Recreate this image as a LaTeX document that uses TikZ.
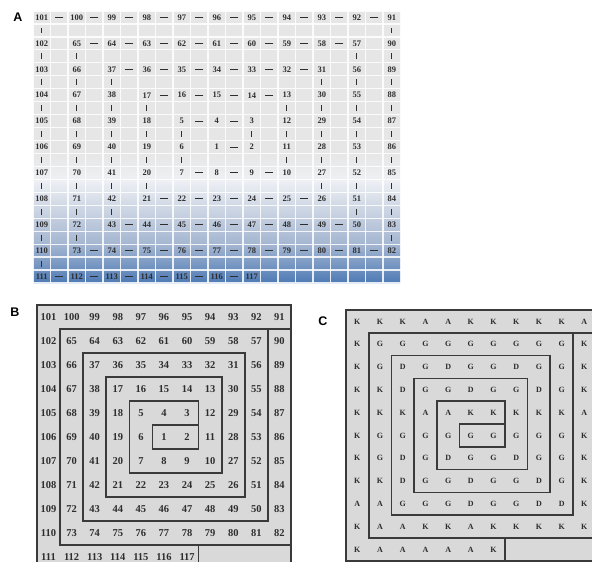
\documentclass[tikz,border=0pt]{standalone}
\usepackage{fontspec}
\setmainfont{Liberation Serif}
\newfontfamily\labfont{Liberation Sans}
\definecolor{cellgray}{HTML}{E6E6E6}
\definecolor{alight}{HTML}{EEF0F4}
\definecolor{amid}{HTML}{A3B5D0}
\definecolor{ablue}{HTML}{4E7AB5}
\definecolor{bfill}{HTML}{D9D9D9}
\definecolor{wallc}{HTML}{3A3A3A}
\definecolor{txt}{HTML}{2E2E2E}
\def\spiralrows{{101,100,99,98,97,96,95,94,93,92,91},{102,65,64,63,62,61,60,59,58,57,90},{103,66,37,36,35,34,33,32,31,56,89},{104,67,38,17,16,15,14,13,30,55,88},{105,68,39,18,5,4,3,12,29,54,87},{106,69,40,19,6,1,2,11,28,53,86},{107,70,41,20,7,8,9,10,27,52,85},{108,71,42,21,22,23,24,25,26,51,84},{109,72,43,44,45,46,47,48,49,50,83},{110,73,74,75,76,77,78,79,80,81,82},{111,112,113,114,115,116,117}}
\def\letterrows{{K,K,K,A,A,K,K,K,K,K,A},{K,G,G,G,G,G,G,G,G,G,K},{K,G,D,G,D,G,G,D,G,G,K},{K,K,D,G,G,D,G,G,D,G,K},{K,K,K,A,A,K,K,K,K,K,A},{K,G,G,G,G,G,G,G,G,G,K},{K,G,D,G,D,G,G,D,G,G,K},{K,K,D,G,G,D,G,G,D,G,K},{A,A,G,G,G,D,G,G,D,D,K},{K,A,A,K,K,A,K,K,K,K,K},{K,A,A,A,A,A,K}}
\begin{document}
\begin{tikzpicture}[x=1pt,y=-1pt,
  panlab/.style={font=\labfont\bfseries\fontsize{12.5}{13}\selectfont, text=black, inner sep=0pt},
  anum/.style={font=\bfseries\fontsize{8.5}{9}\selectfont, text=txt, inner sep=0pt},
  bnum/.style={font=\bfseries\fontsize{10.5}{11}\selectfont, text=txt, inner sep=0pt},
  clet/.style={font=\bfseries\fontsize{8}{8}\selectfont, text=txt, inner sep=0pt},
  hcon/.style={draw=txt, line width=0.9pt, shorten <=13.5pt, shorten >=13.5pt},
  vcon/.style={draw=txt, line width=0.9pt, shorten <=10pt, shorten >=10pt},
  wall/.style={draw=wallc, line width=1.7pt, line join=miter, line cap=rect},
  outerwall/.style={draw=wallc, line width=2.4pt},
  cellline/.style={draw=white, line width=1.2pt, opacity=0.85}
]
\clip (0,0) rectangle (592,562);
\fill[white] (0,0) rectangle (592,562);

% ---------- Panel A ----------
\node[panlab] (labA) at (18,17) {A};
\fill[cellgray] (33,11) rectangle (400.5,152);
\shade[top color=cellgray, bottom color=alight] (33,152) rectangle (400.5,180);
\shade[top color=alight, bottom color=amid] (33,180) rectangle (400.5,245);
\shade[top color=amid, bottom color=ablue] (33,245) rectangle (400.5,283);
\foreach \i in {0,...,21} \draw[cellline] ({33+17.5*\i},11) -- ({33+17.5*\i},283);
\foreach \j in {0,...,21} \draw[cellline] (33,{11+12.95*\j}) -- (400.5,{11+12.95*\j});
\foreach \row [count=\r from 0] in \spiralrows {
  \foreach \v [count=\c from 0] in \row {
    \node[anum] (a\v) at ({41.75+35*\c},{17.5+25.9*\r}) {\v};
  }
}
\foreach \s/\e in {1/2,3/5,7/10,13/17,21/26,31/37,43/50,57/65,73/82,91/101,111/117} {
  \pgfmathtruncatemacro\ee{\e-1}
  \foreach \n in {\s,...,\ee} {
    \pgfmathtruncatemacro\m{\n+1}
    \draw[hcon] (a\n.center) -- (a\m.center);
  }
}
\foreach \s/\e in {2/3,5/7,10/13,17/21,26/31,37/43,50/57,65/73,82/91,101/111} {
  \pgfmathtruncatemacro\ee{\e-1}
  \foreach \n in {\s,...,\ee} {
    \pgfmathtruncatemacro\m{\n+1}
    \draw[vcon] (a\n.center) -- (a\m.center);
  }
}

% ---------- Panel B ----------
\node[panlab] (labB) at (15,312) {B};
\begin{scope}[shift={(37,305)}, xscale=23.09, yscale=24]
  \fill[bfill] (0,0) rectangle (11,11);
  \foreach \row [count=\r from 0] in \spiralrows {
    \foreach \v [count=\c from 0] in \row {
      \node[bnum] (b\v) at ({\c+0.5},{\r+0.5}) {\v};
    }
  }
  \draw[wall] (7,5) -- (5,5) -- (5,6) -- (7,6);
  \draw[wall] (7,6) -- (7,4) -- (4,4) -- (4,7) -- (8,7) -- (8,3) -- (3,3) -- (3,8) -- (9,8) -- (9,2) -- (2,2) -- (2,9) -- (10,9) -- (10,1) -- (1,1) -- (1,10) -- (11,10);
  \draw[wall] (10,1) -- (11,1);
  \draw[wall] (7,10) -- (7,11);
  \draw[outerwall] (0,0) rectangle (11,11);
\end{scope}

% ---------- Panel C ----------
\node[panlab] (labC) at (323,321) {C};
\begin{scope}[shift={(346,310)}, xscale=22.7, yscale=22.8]
  \fill[bfill] (0,0) rectangle (11,11);
  \foreach \row [count=\r from 0] in \letterrows {
    \foreach \v [count=\c from 0] in \row {
      \node[clet] (c\r-\c) at ({\c+0.5},{\r+0.5}) {\v};
    }
  }
  \draw[wall] (7,5) -- (5,5) -- (5,6) -- (7,6);
  \draw[wall] (7,6) -- (7,4) -- (4,4) -- (4,7) -- (8,7) -- (8,3) -- (3,3) -- (3,8) -- (9,8) -- (9,2) -- (2,2) -- (2,9) -- (10,9) -- (10,1) -- (1,1) -- (1,10) -- (11,10);
  \draw[wall] (10,1) -- (11,1);
  \draw[wall] (7,10) -- (7,11);
  \draw[outerwall] (0,0) rectangle (11,11);
\end{scope}
\end{tikzpicture}
\end{document}
